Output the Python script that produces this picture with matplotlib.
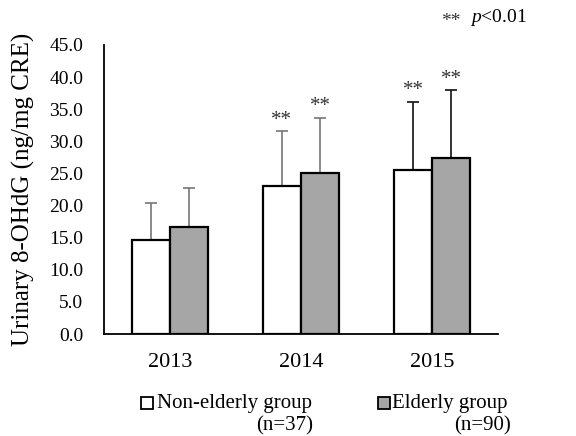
import numpy as np
import matplotlib.pyplot as plt
from matplotlib.patches import Rectangle

plt.rcParams['font.family'] = ['Liberation Serif', 'DejaVu Serif']
plt.rcParams['mathtext.fontset'] = 'custom'
plt.rcParams['mathtext.rm'] = 'Liberation Serif'
plt.rcParams['mathtext.it'] = 'Liberation Serif:italic'

years = ['2013', '2014', '2015']
non_elderly = [14.7, 23.0, 25.5]
non_elderly_sd = [5.7, 8.6, 10.7]
elderly = [16.7, 25.0, 27.4]
elderly_sd = [6.0, 8.7, 10.6]
significant = [False, True, True]
err_colors = ['#777777', '#777777', '#111111']


def main():
    createGraph()


def px(x, y):
    # pixel position (from top-left) to figure fraction
    return x / 576, 1 - y / 436


def createGraph():
    fig = plt.figure(figsize=(5.76, 4.36), dpi=100)
    ax = fig.add_axes([0.1806, 0.2339, 0.6840, 0.6629])

    x = np.arange(len(years))
    w = 0.29

    ax.bar(x - w / 2, non_elderly, w, color='white', edgecolor='black', linewidth=1.6, zorder=2)
    ax.bar(x + w / 2, elderly, w, color='#a6a6a6', edgecolor='black', linewidth=1.6, zorder=2)

    for i in range(len(years)):
        for xpos, m, sd in [(x[i] - w / 2, non_elderly[i], non_elderly_sd[i]),
                            (x[i] + w / 2, elderly[i], elderly_sd[i])]:
            ax.errorbar(xpos, m, yerr=[[0], [sd]], fmt='none', ecolor=err_colors[i],
                        elinewidth=1.2, capsize=4.5, capthick=1.2, zorder=1)
            if significant[i]:
                ax.text(xpos, m + sd + 0.2, '**', ha='center', va='bottom', fontsize=15,
                        color='#333333')

    ax.set_xlim(-0.5, 2.5)
    ax.set_ylim(0, 45)
    ticks = np.arange(0, 45.1, 5)
    ax.set_yticks(ticks)
    ax.set_yticklabels(['%.1f' % v for v in ticks], fontsize=14)
    ax.set_xticks(x)
    ax.set_xticklabels(years, fontsize=16)
    ax.tick_params(axis='y', length=0, pad=15)
    ax.tick_params(axis='x', length=0, pad=14)
    for s in ['top', 'right']:
        ax.spines[s].set_visible(False)
    ax.spines['left'].set_linewidth(1.3)
    ax.spines['bottom'].set_linewidth(1.3)

    fig.text(*px(23, 189), 'Urinary 8-OHdG (ng/mg CRE)', fontsize=18, rotation=90,
             ha='center', va='center')

    # legend drawn by hand so the (n=...) lines sit under each entry
    fig.patches.append(Rectangle(px(141, 409), 12 / 576, 12 / 436,
                                 transform=fig.transFigure, facecolor='white',
                                 edgecolor='black', linewidth=1.3))
    fig.text(*px(157, 403), 'Non-elderly group', fontsize=15, va='center')
    fig.text(*px(313, 426), '(n=37)', fontsize=15, va='center', ha='right')
    fig.patches.append(Rectangle(px(378, 409), 12 / 576, 12 / 436,
                                 transform=fig.transFigure, facecolor='#a6a6a6',
                                 edgecolor='black', linewidth=1.3))
    fig.text(*px(392, 403), 'Elderly group', fontsize=15, va='center')
    fig.text(*px(511, 426), '(n=90)', fontsize=15, va='center', ha='right')

    fig.text(*px(441, 22), '**', fontsize=14, va='center', color='#333333')
    fig.text(*px(470, 18), r'$\mathit{p}$<0.01', fontsize=14, va='center')

    plt.savefig('out.png', dpi=100)
    plt.close()


if __name__ == "__main__":
    main()
